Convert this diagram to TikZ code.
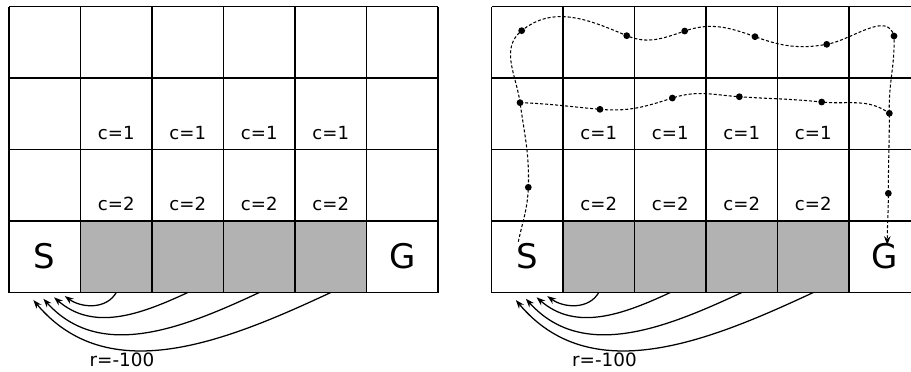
\documentclass[tikz,border=0pt]{standalone}
\usepackage{fontspec}
\setmainfont{DejaVu Sans}
\usetikzlibrary{arrows.meta}

\tikzset{
  cell/.style={draw=black, line width=0.55pt},
  blocked/.style={fill=gray!60},
  costlabel/.style={font=\fontsize{7.2}{8}\selectfont, anchor=base, inner sep=0pt},
  endlabel/.style={font=\fontsize{13.5}{15}\selectfont, anchor=base, inner sep=0pt},
  rewardlabel/.style={font=\fontsize{7.3}{8}\selectfont, anchor=base, inner sep=0pt},
  cliff/.style={line width=0.5pt, -{Stealth[length=3.5pt,width=2.5pt]}},
  route/.style={line width=0.42pt, dash pattern=on 1.2pt off 0.8pt},
  waypoint/.style={circle, fill=black, inner sep=0pt, minimum size=0.95mm},
}

% one cliff-walking grid: #1 = x offset (cm), #2 = name suffix
\newcommand{\gridpanel}[2]{%
  \begin{scope}[xshift=#1 cm]
    \fill[blocked] (1,0) rectangle (5,1);
    \draw[cell] (0,0) grid (6,4);
    \foreach \c in {1,...,4} {
      \node[costlabel] (one#2\c) at (\c+0.5,2.143) {c=1};
      \node[costlabel] (two#2\c) at (\c+0.5,1.143) {c=2};
    }
    \node[endlabel] (start#2) at (0.5,0.338) {S};
    \node[endlabel] (goal#2) at (5.5,0.338) {G};
    % falling off the cliff sends the agent back to S
    \coordinate (dropa#2) at (1.5,0);
    \coordinate (dropb#2) at (2.5,0);
    \coordinate (dropc#2) at (3.5,0);
    \coordinate (dropd#2) at (4.5,0);
    \coordinate (backa#2) at (0.78,-0.05);
    \coordinate (backb#2) at (0.63,-0.067);
    \coordinate (backc#2) at (0.48,-0.087);
    \coordinate (backd#2) at (0.34,-0.105);
    \draw[cliff] (dropa#2) to[out=-120,in=-36] (backa#2);
    \draw[cliff] (dropb#2) to[out=-155,in=-41] (backb#2);
    \draw[cliff] (dropc#2) to[out=-155,in=-48] (backc#2);
    \draw[cliff] (dropd#2) to[out=-155,in=-50] (backd#2);
    \node[rewardlabel] (reward#2) at (1.58,-1.037) {r=-100};
  \end{scope}
}

\begin{document}
\begin{tikzpicture}
  \useasboundingbox (-0.126,-1.098) rectangle (12.615,4.091);
  \fill[white] (-0.126,-1.098) rectangle (12.615,4.091);
  \clip (-0.126,-1.098) rectangle (12.615,4.091);

  \gridpanel{0}{L}
  \gridpanel{6.748}{R}

  % safe route around the cliff
  \begin{scope}[xshift=6.748cm]
    \coordinate (rs) at (0.375,0.71);
    \coordinate (re) at (5.535,0.665);
    \node[waypoint] (u1) at (0.515,1.471) {};
    \node[waypoint] (u6) at (5.55,1.387) {};
    \node[waypoint] (v1) at (0.399,2.655) {};
    \node[waypoint] (v2) at (1.517,2.562) {};
    \node[waypoint] (v3) at (2.529,2.720) {};
    \node[waypoint] (v4) at (3.466,2.738) {};
    \node[waypoint] (v5) at (4.618,2.664) {};
    \node[waypoint] (v6) at (5.564,2.506) {};
    \node[waypoint] (w1) at (0.422,3.662) {};
    \node[waypoint] (w2) at (1.891,3.592) {};
    \node[waypoint] (w3) at (2.702,3.657) {};
    \node[waypoint] (w4) at (3.685,3.578) {};
    \node[waypoint] (w5) at (4.688,3.471) {};
    \node[waypoint] (w6) at (5.629,3.587) {};

    \draw[route, -{Stealth[length=3.5pt,width=2.6pt]}]
      (rs) to[out=78,in=-92] (u1.center)
      to[out=88,in=-82] (v1.center)
      to[out=98,in=-141] (w1.center)
      to[out=39,in=157] (w2.center)
      to[out=-23,in=-161] (w3.center)
      to[out=19,in=160] (w4.center)
      to[out=-20,in=-170] (w5.center)
      to[out=10,in=105] (w6.center)
      to[out=-88,in=92] (v6.center)
      to[out=-90,in=90] (u6.center)
      to[out=-90,in=90] (re);

    \draw[route]
      (v1.center) to[out=-2,in=175] (v2.center)
      to[out=-5,in=-162] (v3.center)
      to[out=18,in=176] (v4.center)
      to[out=-4,in=174] (v5.center)
      to[out=-6,in=144] (v6.center);
  \end{scope}
\end{tikzpicture}
\end{document}
